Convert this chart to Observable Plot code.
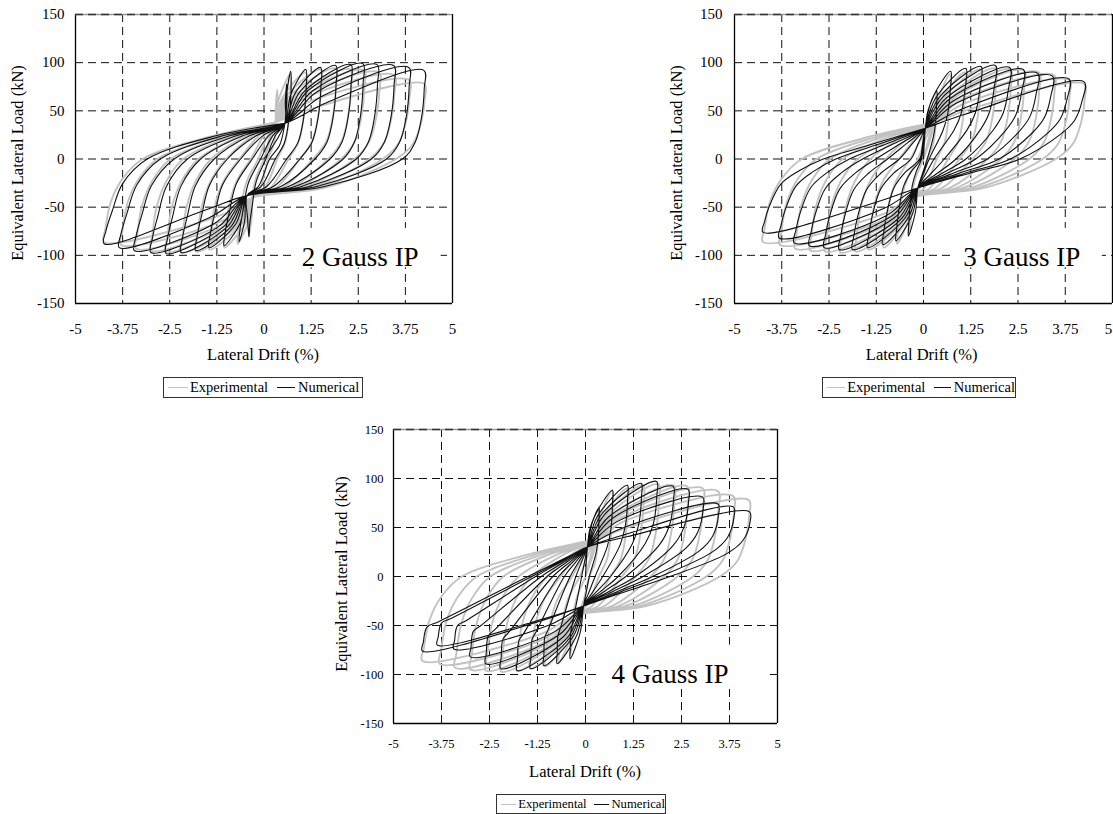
<!DOCTYPE html>
<html><head><meta charset="utf-8">
<script src="https://cdn.jsdelivr.net/npm/d3@7"></script>
<script src="https://cdn.jsdelivr.net/npm/@observablehq/plot@0.6"></script>
<style>
html,body{margin:0;padding:0;background:#fff;}
body{width:1113px;height:814px;position:relative;overflow:hidden;font-family:"Liberation Serif","Times New Roman",serif;color:#000;}
.panel{position:absolute;}
.ttl{position:absolute;white-space:nowrap;line-height:1;}
.legend{position:absolute;border:1px solid #333;display:flex;align-items:center;box-sizing:border-box;white-space:nowrap;line-height:1;}
.sw{display:inline-block;height:0;border-top-style:solid;}
</style></head><body>
<script>
// ---------- axis ticks / labels ----------
const xTicks = [-5, -3.75, -2.5, -1.25, 0, 1.25, 2.5, 3.75, 5];
const xTickLabels = ["-5", "-3.75", "-2.5", "-1.25", "0", "1.25", "2.5", "3.75", "5"];
const yTicks = [-150, -100, -50, 0, 50, 100, 150];
const yTickLabels = ["-150", "-100", "-50", "0", "50", "100", "150"];
const gridX = [-3.75, -2.5, -1.25, 0, 1.25, 2.5, 3.75];
const gridY = [-100, -50, 0, 50, 100];
const panelTitles = ["2 Gauss IP", "3 Gauss IP", "4 Gauss IP"];
const seriesNames = ["Experimental", "Numerical"];
const xTitle = "Lateral Drift (%)";
const yTitle = "Equivalent Lateral Load (kN)";

// ---------- Experimental (same test in every panel) ----------
const expPinchUp = [0.3, 38];
const expPinchLow = [-0.3, -40];
const expPosTips = [[0.35,72],[0.7,88],[1.1,90],[1.5,93],[1.9,94],[2.3,93],[2.65,92],[3.05,90],[3.45,87],[3.85,82],[4.25,78]];
const expPosZeros = [0.1,0.35,0.65,0.95,1.3,1.7,2.05,2.4,2.8,3.15,3.5];
const expNegTips = [[-0.4,-80],[-0.7,-88],[-1.05,-92],[-1.45,-94],[-1.8,-96],[-2.2,-97],[-2.6,-96],[-3.0,-95],[-3.4,-93],[-3.8,-89],[-4.25,-86]];
const expNegZeros = [0.0,-0.15,-0.35,-0.65,-1.0,-1.4,-1.74,-2.14,-2.48,-2.83,-3.22];

// ---------- Numerical, 2 Gauss IP ----------
const p1PinchUp = [0.55, 37];
const p1PinchLow = [-0.45, -38];
const p1PosTips = [[0.6,78],[0.71,91],[1.11,93],[1.5,95],[1.9,97],[2.3,98],[2.62,99],[3.0,98],[3.44,97],[3.84,95],[4.24,92]];
const p1PosZeros = [0.15,0.3,0.6,0.95,1.35,1.75,2.1,2.45,2.85,3.25,3.67];
const p1NegTips = [[-0.4,-81],[-0.66,-86],[-1.06,-90],[-1.46,-92],[-1.81,-95],[-2.2,-97],[-2.6,-98],[-3.0,-97],[-3.44,-95],[-3.84,-92],[-4.24,-88]];
const p1NegZeros = [0.05,-0.09,-0.31,-0.62,-0.97,-1.32,-1.68,-2.03,-2.38,-2.75,-3.1];

// ---------- Numerical, 3 Gauss IP ----------
const p2PinchUp = [0.05, 32];
const p2PinchLow = [-0.15, -30];
const p2PosTips = [[0.35,70],[0.72,91],[1.12,94],[1.52,96],[1.9,97],[2.28,95],[2.64,93],[3.02,89],[3.41,86],[3.85,83],[4.25,80]];
const p2PosZeros = [0.1,0.15,0.28,0.55,0.86,1.12,1.38,1.69,2.0,2.3,2.55];
const p2NegTips = [[-0.4,-80],[-0.73,-85],[-1.08,-89],[-1.48,-92],[-1.88,-94],[-2.23,-94],[-2.63,-92],[-3.02,-90],[-3.42,-87],[-3.82,-82],[-4.25,-76]];
const p2NegZeros = [-0.05,-0.07,-0.1,-0.33,-0.64,-0.95,-1.26,-1.61,-1.96,-2.32,-2.65];

// ---------- Numerical, 4 Gauss IP ----------
const p3PinchUp = [0.05, 30];
const p3PinchLow = [-0.05, -30];
const p3PosTips = [[0.35,70],[0.7,88],[1.09,93],[1.45,95],[1.85,97],[2.28,92],[2.67,89],[3.05,81],[3.45,74],[3.85,71],[4.27,66]];
const p3PosZeros = [0.1,0.25,0.45,0.65,0.85,1.05,1.3,1.5,1.75,1.95,2.2];
const p3NegTips = [[-0.4,-84],[-0.74,-89],[-1.09,-91],[-1.43,-94],[-1.78,-96],[-2.21,-94],[-2.6,-89],[-3.0,-82],[-3.43,-74],[-3.86,-70],[-4.25,-76]];
const p3NegZeros = [-0.1,-0.25,-0.4,-0.55,-0.7,-0.85,-1.0,-1.15,-1.3,-1.4,-1.5];

// branch shapes read from the largest loops
// load: [fraction of the way back toward the pinch, slope of the upper branch in kN per % drift]
const expShape = {load:[0.8,9], posKnees:[[-0.02,0.8],[0.1,0.5],[0.4,0.2]], posSag:1.5, negKnees:[[0.04,0.85],[0.18,0.52],[0.48,0.24]], negSag:1.2};
const p1Shape = {load:[0.7,13], posKnees:[[-0.02,0.8],[0.12,0.45],[0.42,0.18]], posSag:1.5, negKnees:[[0.04,0.85],[0.19,0.61],[0.43,0.29]], negSag:1.3};
const p2Shape = {load:[0.75,11], posKnees:[[0.03,0.76],[0.15,0.5],[0.37,0.32]], posSag:1.0, negKnees:[[0.03,0.85],[0.1,0.66],[0.3,0.34],[0.6,0.16]], negSag:1.0};
const p3Shape = {load:[0.75,10], posKnees:[[-0.01,0.86],[0.08,0.56],[0.29,0.35]], posSag:1.0, negKnees:[[0.01,0.88],[0.044,0.68],[0.15,0.61]], negSag:1.0};

// assemble the loop key points in loading order
function buildLoops(U, L, posTips, posZeros, negTips, negZeros, sh) {
  const out = [];
  const push = p => out.push({x: p[0], y: p[1]});
  const [f, k] = sh.load;
  const cap = 1 - f + 0.25; // small loops stay close to a straight branch
  push([0, 0]);
  push(U);
  for (let i = 0; i < posTips.length; i++) {
    const T = posTips[i], z = posZeros[i], N = negTips[i], zn = negZeros[i];
    const dxp = T[0] - U[0];
    push([T[0] - f * dxp, Math.min(Math.max(T[1] - k * f * dxp, U[1] + 0.3 * (T[1] - U[1])), U[1] + cap * (T[1] - U[1]))]);
    push(T);
    for (const [a, b] of sh.posKnees) push([T[0] - a * (T[0] - z), T[1] * b]);
    push([z, 0]);
    push([(z + L[0]) / 2, L[1] / 2 * sh.posSag]);
    push(L);
    const dxn = L[0] - N[0];
    push([N[0] + f * dxn, Math.max(Math.min(N[1] + k * f * dxn, L[1] + 0.3 * (N[1] - L[1])), L[1] + cap * (N[1] - L[1]))]);
    push(N);
    for (const [a, b] of sh.negKnees) push([N[0] + a * (zn - N[0]), N[1] * b]);
    push([zn, 0]);
    push([(zn + U[0]) / 2, U[1] / 2 * sh.negSag]);
    push(U);
  }
  return out;
}

const expLoops = buildLoops(expPinchUp, expPinchLow, expPosTips, expPosZeros, expNegTips, expNegZeros, expShape);
const numLoops = [
  buildLoops(p1PinchUp, p1PinchLow, p1PosTips, p1PosZeros, p1NegTips, p1NegZeros, p1Shape),
  buildLoops(p2PinchUp, p2PinchLow, p2PosTips, p2PosZeros, p2NegTips, p2NegZeros, p2Shape),
  buildLoops(p3PinchUp, p3PinchLow, p3PosTips, p3PosZeros, p3NegTips, p3NegZeros, p3Shape)
];

const panels = [
  {left:0, top:0, width:470, height:345, ml:75, mr:18, mt:14, mb:42, tick:15, xpad:20, ypad:11, lastDx:0,
   note:{x:2.55, y:-102}, box:{x1:0.75, x2:4.7, y1:-113, y2:-72},
   yt:{x:17.5, y:162.5}, xt:{x:263, y:355}, leg:{x:163, y:377, w:200, h:21, f:14.5}},
  {left:660, top:0, width:453, height:345, ml:74, mr:1, mt:14, mb:42, tick:15, xpad:20, ypad:12, lastDx:-4,
   note:{x:2.6, y:-102}, box:{x1:0.72, x2:4.73, y1:-113, y2:-72},
   yt:{x:676.7, y:162.5}, xt:{x:921.7, y:355}, leg:{x:822, y:377, w:194, h:21, f:14.5}},
  {left:320, top:410, width:470, height:355, ml:73, mr:13, mt:19, mb:42, tick:12.5, xpad:16, ypad:10, lastDx:0,
   note:{x:2.2, y:-100}, box:{x1:0.3, x2:4.77, y1:-115, y2:-70},
   yt:{x:341.7, y:574}, xt:{x:585, y:771.7}, leg:{x:496, y:794, w:170, h:20, f:12.7}}
];

const FONT = "Liberation Serif, Times New Roman, serif";
const EXP_COLOR = "#c2c2c2";
const NUM_COLOR = "#111";

panels.forEach((p, k) => {
  const innerTicks = xTicks.slice(0, -1);
  const chart = Plot.plot({
    width: p.width, height: p.height,
    marginLeft: p.ml, marginRight: p.mr, marginTop: p.mt, marginBottom: p.mb,
    x: {domain: [-5, 5]},
    y: {domain: [-150, 150]},
    style: {fontFamily: FONT, fontSize: p.tick + "px", color: "#000", background: "transparent", overflow: "visible"},
    marks: [
      Plot.ruleX(gridX, {stroke: "#111", strokeWidth: 1, strokeDasharray: "8,5"}),
      Plot.ruleY(gridY, {stroke: "#111", strokeWidth: 1, strokeDasharray: "8,5"}),
      Plot.rect([p.box], {x1: "x1", x2: "x2", y1: "y1", y2: "y2", fill: "white"}),
      Plot.line(expLoops, {x: "x", y: "y", stroke: EXP_COLOR, strokeWidth: 1.9, curve: "catmull-rom"}),
      Plot.line(numLoops[k], {x: "x", y: "y", stroke: NUM_COLOR, strokeWidth: 1.1, curve: "catmull-rom"}),
      Plot.ruleX([-5, 5], {stroke: "#000", strokeWidth: 1.3}),
      Plot.ruleY([-150], {stroke: "#000", strokeWidth: 1.3}),
      Plot.ruleY([150], {stroke: "#999", strokeWidth: 1.3}),
      Plot.ruleY([150], {stroke: "#333", strokeWidth: 1.3, strokeDasharray: "8,5"}),
      Plot.text([{x: p.note.x, y: p.note.y, t: panelTitles[k]}], {x: "x", y: "y", text: "t", fontSize: 27, fill: "#000", fontFamily: FONT}),
      Plot.axisX(innerTicks, {tickSize: 0, tickPadding: p.xpad, label: null, fontSize: p.tick,
        tickFormat: d => xTickLabels[xTicks.indexOf(d)]}),
      Plot.axisX([xTicks[xTicks.length - 1]], {tickSize: 0, tickPadding: p.xpad, label: null, fontSize: p.tick, dx: p.lastDx,
        tickFormat: d => xTickLabels[xTicks.indexOf(d)]}),
      Plot.axisY(yTicks, {tickSize: 0, tickPadding: p.ypad, label: null, fontSize: p.tick,
        tickFormat: d => yTickLabels[yTicks.indexOf(d)]})
    ]
  });
  const holder = document.createElement("div");
  holder.className = "panel";
  holder.style.left = p.left + "px";
  holder.style.top = p.top + "px";
  holder.style.width = p.width + "px";
  holder.style.height = p.height + "px";
  holder.appendChild(chart);
  document.body.appendChild(holder);

  const yt = document.createElement("div");
  yt.className = "ttl";
  yt.textContent = yTitle;
  yt.style.fontSize = "16.5px";
  yt.style.left = p.yt.x + "px";
  yt.style.top = p.yt.y + "px";
  yt.style.transform = "translate(-50%,-50%) rotate(-90deg)";
  document.body.appendChild(yt);

  const xt = document.createElement("div");
  xt.className = "ttl";
  xt.textContent = xTitle;
  xt.style.fontSize = "16.5px";
  xt.style.left = p.xt.x + "px";
  xt.style.top = p.xt.y + "px";
  xt.style.transform = "translate(-50%,-50%)";
  document.body.appendChild(xt);

  const lg = document.createElement("div");
  lg.className = "legend";
  lg.style.left = p.leg.x + "px";
  lg.style.top = p.leg.y + "px";
  lg.style.width = p.leg.w + "px";
  lg.style.height = p.leg.h + "px";
  lg.style.fontSize = p.leg.f + "px";
  const sc = p.leg.f / 14.5;
  lg.innerHTML =
    `<span class="sw" style="width:${20*sc}px;border-top-width:1.8px;border-top-color:${EXP_COLOR};margin:0 ${2*sc}px 0 ${4*sc}px"></span>` +
    `<span>${seriesNames[0]}</span>` +
    `<span class="sw" style="width:${18*sc}px;border-top-width:1.3px;border-top-color:${NUM_COLOR};margin:0 ${3*sc}px 0 ${9*sc}px"></span>` +
    `<span>${seriesNames[1]}</span>`;
  document.body.appendChild(lg);
});
</script>
</body></html>
